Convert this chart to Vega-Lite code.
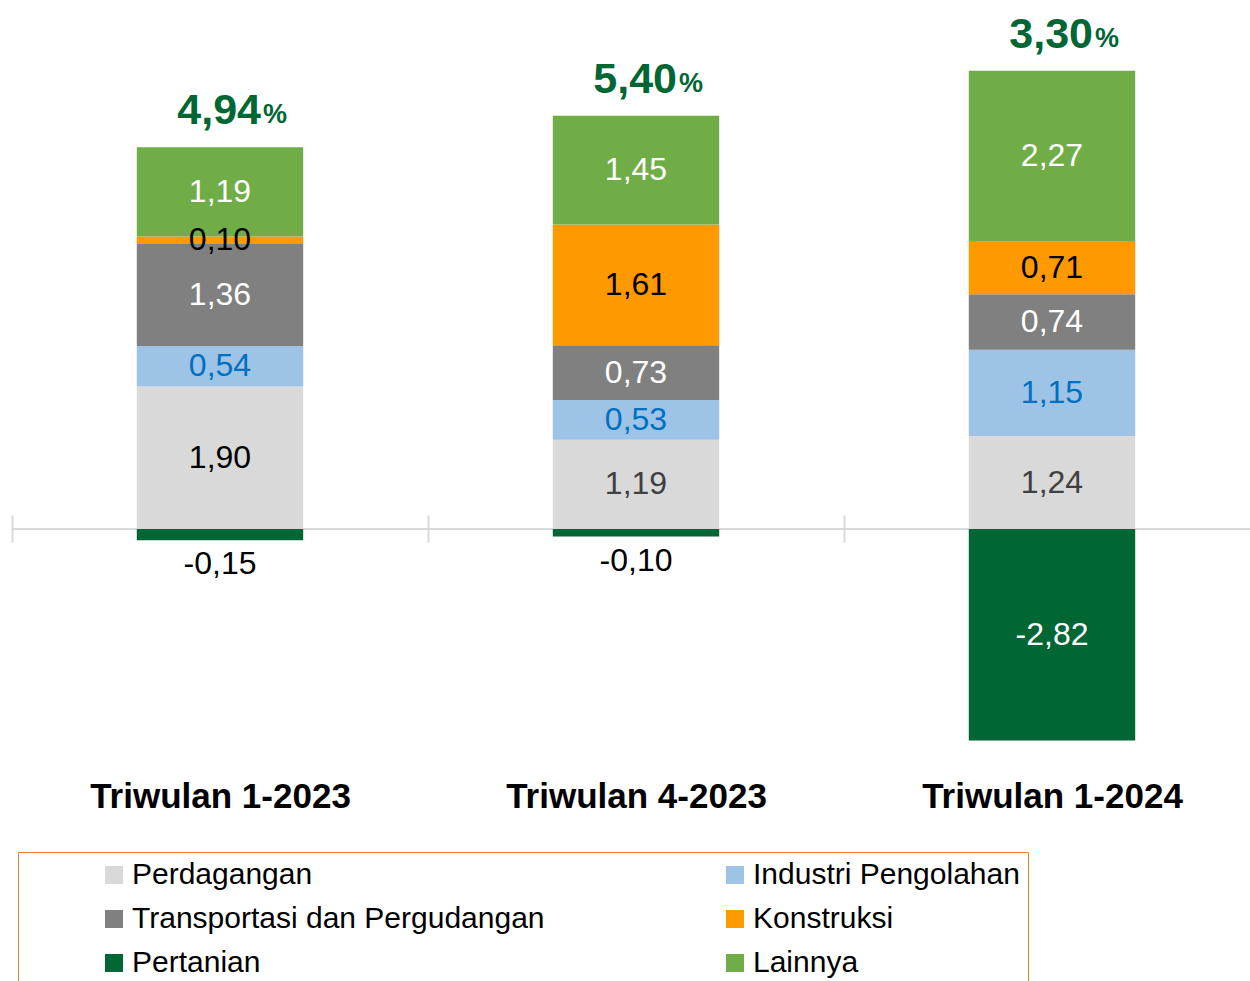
{
  "$schema": "https://vega.github.io/schema/vega-lite/v6.json",
  "width": 1238,
  "height": 750,
  "autosize": {"type": "none"},
  "padding": {"left": 12, "top": 4, "right": 0, "bottom": 227},
  "background": "white",
  "config": {
    "view": {"stroke": null},
    "locale": {"number": {"decimal": ",", "thousands": ".", "grouping": [3], "currency": ["", ""], "minus": "-"}}
  },
  "datasets": {
    "sectors": [
      {"quarter": "Triwulan 1-2023", "sector": "Perdagangan", "value": 1.90},
      {"quarter": "Triwulan 1-2023", "sector": "Industri Pengolahan", "value": 0.54},
      {"quarter": "Triwulan 1-2023", "sector": "Transportasi dan Pergudangan", "value": 1.36},
      {"quarter": "Triwulan 1-2023", "sector": "Konstruksi", "value": 0.10},
      {"quarter": "Triwulan 1-2023", "sector": "Lainnya", "value": 1.19},
      {"quarter": "Triwulan 1-2023", "sector": "Pertanian", "value": -0.15},
      {"quarter": "Triwulan 4-2023", "sector": "Perdagangan", "value": 1.19},
      {"quarter": "Triwulan 4-2023", "sector": "Industri Pengolahan", "value": 0.53},
      {"quarter": "Triwulan 4-2023", "sector": "Transportasi dan Pergudangan", "value": 0.73},
      {"quarter": "Triwulan 4-2023", "sector": "Konstruksi", "value": 1.61},
      {"quarter": "Triwulan 4-2023", "sector": "Lainnya", "value": 1.45},
      {"quarter": "Triwulan 4-2023", "sector": "Pertanian", "value": -0.10},
      {"quarter": "Triwulan 1-2024", "sector": "Perdagangan", "value": 1.24},
      {"quarter": "Triwulan 1-2024", "sector": "Industri Pengolahan", "value": 1.15},
      {"quarter": "Triwulan 1-2024", "sector": "Transportasi dan Pergudangan", "value": 0.74},
      {"quarter": "Triwulan 1-2024", "sector": "Konstruksi", "value": 0.71},
      {"quarter": "Triwulan 1-2024", "sector": "Lainnya", "value": 2.27},
      {"quarter": "Triwulan 1-2024", "sector": "Pertanian", "value": -2.82}
    ],
    "totals": [
      {"quarter": "Triwulan 1-2023", "total": 4.94},
      {"quarter": "Triwulan 4-2023", "total": 5.40},
      {"quarter": "Triwulan 1-2024", "total": 3.30}
    ]
  },
  "data": {"name": "sectors"},
  "transform": [
    {"calculate": "indexof(['Perdagangan','Industri Pengolahan','Transportasi dan Pergudangan','Konstruksi','Lainnya','Pertanian'], datum.sector)", "as": "ord"}
  ],
  "layer": [
    {
      "data": {"values": [{}]},
      "mark": {"type": "rule", "color": "#D9D9D9", "strokeWidth": 2},
      "encoding": {"y": {"datum": 0, "type": "quantitative", "scale": {"domain": [-3, 7], "nice": false, "zero": false}, "axis": null}}
    },
    {
      "mark": {"type": "bar"},
      "encoding": {
        "x": {
          "field": "quarter", "type": "nominal", "sort": null,
          "scale": {"range": [0, 1248], "paddingInner": 0.6, "paddingOuter": 0.3},
          "axis": {
            "title": null, "orient": "bottom", "offset": -239, "domain": false,
            "ticks": true, "tickBand": "center", "tickOffset": -208, "tickSize": 27, "tickColor": "#D9D9D9", "tickWidth": 2,
            "labelOffset": 208,
            "labelPadding": 254, "labelAngle": 0, "labelBaseline": "middle", "labelLimit": 1000,
            "labelFont": "Liberation Sans", "labelFontSize": 35, "labelFontWeight": "bold", "labelColor": "#000000",
            "grid": false
          }
        },
        "y": {"field": "value", "type": "quantitative", "stack": "zero", "scale": {"domain": [-3, 7], "nice": false, "zero": false}, "axis": null},
        "order": {"field": "ord", "type": "quantitative"},
        "color": {
          "field": "sector", "type": "nominal",
          "scale": {
            "domain": ["Perdagangan", "Industri Pengolahan", "Transportasi dan Pergudangan", "Konstruksi", "Pertanian", "Lainnya"],
            "range": ["#D9D9D9", "#9DC3E6", "#808080", "#FF9900", "#006633", "#70AD47"]
          },
          "legend": {
            "title": null,
            "orient": "none",
            "direction": "horizontal",
            "legendX": 6,
            "legendY": 848,
            "columns": 2,
            "columnPadding": 102,
            "rowPadding": 14,
            "padding": 8,
            "strokeColor": "#ED7D31",
            "symbolType": "square",
            "symbolSize": 324,
            "symbolStrokeWidth": 0,
            "symbolOffset": 73,
            "labelFont": "Liberation Sans",
            "labelFontSize": 30,
            "labelColor": "#000000",
            "labelLimit": 2000,
            "labelOffset": 3
          }
        }
      }
    },
    {
      "transform": [{"filter": "!(datum.value < 0 && datum.value > -1)"}],
      "mark": {"type": "text", "font": "Liberation Sans", "fontSize": 32, "baseline": "middle", "align": "center"},
      "encoding": {
        "x": {"field": "quarter", "type": "nominal", "sort": null},
        "y": {"field": "value", "type": "quantitative", "stack": "zero", "bandPosition": 0.5},
        "order": {"field": "ord", "type": "quantitative"},
        "text": {"field": "value", "type": "quantitative", "format": ".2f"},
        "color": {
          "condition": [
            {"test": "datum.sector === 'Industri Pengolahan'", "value": "#0070C0"},
            {"test": "datum.sector === 'Transportasi dan Pergudangan' || datum.sector === 'Lainnya' || datum.value < -1", "value": "#FFFFFF"},
            {"test": "datum.sector === 'Perdagangan' && datum.quarter !== 'Triwulan 1-2023'", "value": "#404040"}
          ],
          "value": "#000000"
        }
      }
    },
    {
      "transform": [{"filter": "datum.value < 0 && datum.value > -1"}],
      "mark": {"type": "text", "font": "Liberation Sans", "fontSize": 32, "baseline": "middle", "align": "center", "dy": 24, "color": "#000000"},
      "encoding": {
        "x": {"field": "quarter", "type": "nominal", "sort": null},
        "y": {"field": "value", "type": "quantitative"},
        "text": {"field": "value", "type": "quantitative", "format": ".2f"}
      }
    },
    {
      "transform": [
        {"filter": "datum.value > 0"},
        {"aggregate": [{"op": "sum", "field": "value", "as": "top"}], "groupby": ["quarter"]},
        {"lookup": "quarter", "from": {"data": {"name": "totals"}, "key": "quarter", "fields": ["total"]}}
      ],
      "mark": {"type": "text", "font": "Liberation Sans", "fontSize": 43, "fontWeight": "bold", "baseline": "middle", "align": "right", "dx": 41, "dy": -36, "color": "#006633"},
      "encoding": {
        "x": {"field": "quarter", "type": "nominal", "sort": null},
        "y": {"field": "top", "type": "quantitative"},
        "text": {"field": "total", "type": "quantitative", "format": ".2f"}
      }
    },
    {
      "transform": [
        {"filter": "datum.value > 0"},
        {"aggregate": [{"op": "sum", "field": "value", "as": "top"}], "groupby": ["quarter"]}
      ],
      "mark": {"type": "text", "font": "Liberation Sans", "fontSize": 27, "fontWeight": "bold", "baseline": "middle", "align": "left", "dx": 43, "dy": -32, "color": "#006633", "text": "%"},
      "encoding": {
        "x": {"field": "quarter", "type": "nominal", "sort": null},
        "y": {"field": "top", "type": "quantitative"}
      }
    }
  ]
}
